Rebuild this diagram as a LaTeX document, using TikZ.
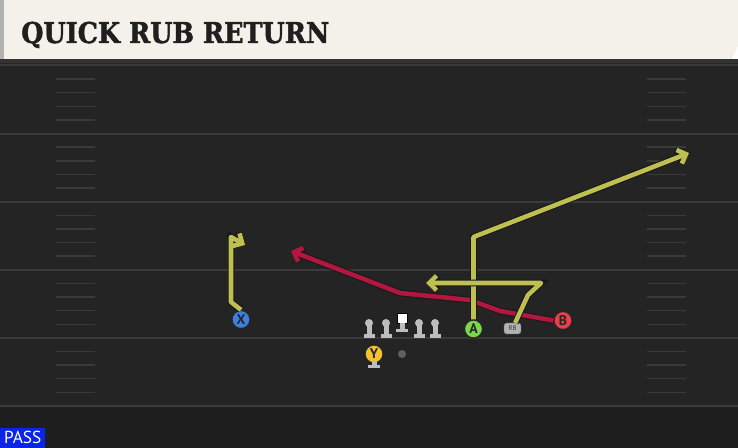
\documentclass[tikz,border=0pt]{standalone}
\usepackage{fontspec}
\newfontfamily\titlefont{DejaVu Serif}[BoldFeatures={FakeBold=1.6}]
\newfontfamily\labelfont{PT Sans}
\usetikzlibrary{arrows.meta}
\definecolor{field}{HTML}{242424}
\definecolor{fieldlow}{HTML}{1E1E1E}
\definecolor{yardline}{HTML}{3A3A3A}
\definecolor{header}{HTML}{F4F1EA}
\definecolor{routeyellow}{HTML}{BFC052}
\definecolor{routered}{HTML}{B2173F}
\definecolor{passblue}{HTML}{0A24E8}
\definecolor{standgray}{HTML}{BDBDBD}
\definecolor{xblue}{HTML}{3F7FE0}
\definecolor{agreen}{HTML}{79D94B}
\definecolor{bred}{HTML}{E8404C}
\definecolor{yyellow}{HTML}{F2C230}
\tikzset{
  player/.style={circle, draw=black!85, line width=0.9pt, minimum size=13.5pt, inner sep=0pt,
    font=\labelfont\bfseries\fontsize{10.5}{10.5}\selectfont, text=black!85},
  blocker/.style={circle, fill=standgray, minimum size=6pt, inner sep=0pt},
  stand/.style={fill=standgray},
  hash/.style={yardline, line width=1.1pt},
  route/.style={line width=3.4pt, line join=round,
    preaction={draw=black!90, line width=5pt},
    -{Straight Barb[length=5.5pt,width=11pt]}},
}
\begin{document}
\begin{tikzpicture}[x=0.75pt,y=-0.75pt]
   \useasboundingbox (0,0) rectangle (738,448);
   \fill[field] (0,59) rectangle (738,448);
   \fill[fieldlow] (0,406) rectangle (738,448);
   \fill[black!80] (0,59) rectangle (738,63);
   \fill[header] (4,0) -- (738,0) -- (738,46) -- (732,59) -- (4,59) -- cycle;
   \fill[gray!60] (0,0) rectangle (4,59);
   \node[anchor=base west, inner sep=0pt, text=black!88,
     font=\titlefont\bfseries\fontsize{21.5}{24}\selectfont] (title) at (21,43) {\scalebox{0.89}[1]{QUICK RUB RETURN}};
   \foreach \k in {0,...,5}
      \draw[yardline, line width=1.5pt] (0,{65.5+68.1*\k}) -- (738,{65.5+68.1*\k});
   \foreach \k in {0,...,4}
      \foreach \j in {1,...,4} {
         \draw[hash] (56,{65.5+68.1*\k+13.62*\j}) -- (95,{65.5+68.1*\k+13.62*\j});
         \draw[hash] (647,{65.5+68.1*\k+13.62*\j}) -- (686,{65.5+68.1*\k+13.62*\j});
      }
   \foreach \pos/\name in {369/LT,386/LG,419/RG,435/RT} {
      \node[blocker] (\name) at (\pos,323) {};
      \fill[stand] (\pos-2.5,325) rectangle (\pos+2.5,335);
      \fill[stand] (\pos-5.5,334) rectangle (\pos+5.5,338);
   }
   \node[draw=black, fill=white, minimum size=7.5pt, inner sep=0pt] (C) at (402,318) {};
   \fill[stand] (399.5,323) rectangle (404.5,330);
   \fill[stand] (396,329) rectangle (408,332.5);
   \node[player, fill=yyellow] (Y) at (374,354) {Y};
   \fill[stand] (371.5,361) rectangle (376.5,366);
   \fill[stand] (368,365) rectangle (380,368.5);
   \node[circle, fill=gray!75!black, minimum size=6pt, inner sep=0pt] (QB) at (402,354) {};
   \node[player, fill=xblue] (X) at (241,319.5) {X};
   \node[player, fill=agreen] (A) at (473.5,329) {A};
   \node[player, fill=bred] (B) at (563,320.5) {B};
   \node[draw=gray!85, fill=gray!60, rounded corners=2pt, minimum width=12.5pt, minimum height=8pt,
     inner sep=0pt, text=black!80, font=\labelfont\tiny] (RB) at (512.5,328.5) {RB};
   \draw[route, routered] (B.west) -- (500,311) -- (470,300) -- (400,293) -- (291,251);
   \draw[route, routeyellow] (A.north) -- (473.5,237) -- (689,153);
   \draw[route, routeyellow] (RB.65) -- (528,295) -- (541,283) -- (426,283);
   \draw[route, routeyellow] (X.north) -- (231,302) -- (231,237) -- (245,245);
   \node[fill=passblue, anchor=south west, inner sep=0pt, minimum width=33.75pt, minimum height=15pt,
     text=white, font=\labelfont\fontsize{13}{13}\selectfont] (pass) at (0,448) {PASS};
\end{tikzpicture}
\end{document}
